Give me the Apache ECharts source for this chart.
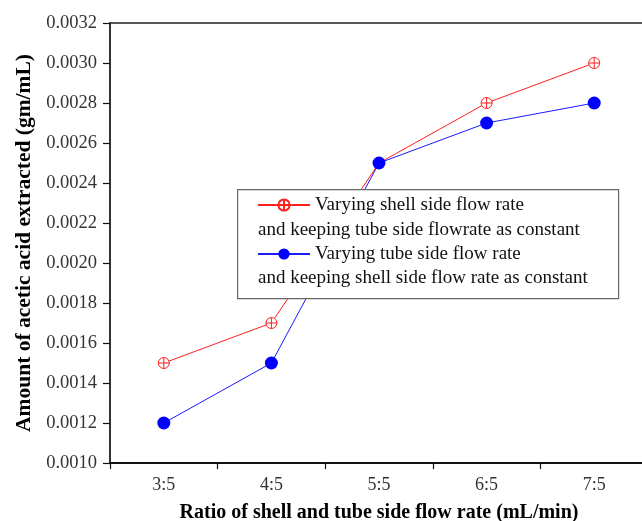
<!DOCTYPE html>
<html><head><meta charset="utf-8">
<script src="https://cdn.jsdelivr.net/npm/echarts@6/dist/echarts.min.js"></script>
<style>html,body{margin:0;padding:0;background:#fff;overflow:hidden}#c{width:642px;height:521px}</style>
</head><body><div id="c"></div>
<script>
const categories = ['3:5', '4:5', '5:5', '6:5', '7:5'];
const shellVarying = [0.0015, 0.0017, 0.0025, 0.0028, 0.0030];
const tubeVarying = [0.0012, 0.0015, 0.0025, 0.0027, 0.0028];
const seriesNames = ['Varying shell side flow rate', 'Varying tube side flow rate'];
const legendSecondLines = ['and keeping tube side flowrate as constant', 'and keeping shell side flow rate as constant'];
const xName = 'Ratio of shell and tube side flow rate (mL/min)';
const yName = 'Amount of acetic acid extracted (gm/mL)';

const FONT = 'Liberation Serif';
const crossCircle = 'path://M10,0 A10,10 0 1,1 -10,0 A10,10 0 1,1 10,0 Z M-10,0 L10,0 M0,-10 L0,10';

const chart = echarts.init(document.getElementById('c'), null, {renderer: 'canvas'});
chart.setOption({
  animation: false,
  backgroundColor: '#fff',
  grid: {left: 110, top: 23, bottom: 58, right: -6, outerBoundsMode: 'none', show: true, borderColor: '#222', borderWidth: 1.5, containLabel: false},
  xAxis: {
    type: 'category', data: categories, boundaryGap: true,
    name: xName, nameLocation: 'middle', nameGap: 40,
    nameTextStyle: {fontFamily: FONT, fontWeight: 'bold', fontSize: 20, color: '#000'},
    axisLine: {lineStyle: {color: '#111', width: 2}},
    axisTick: {show: true, inside: false, length: 6, alignWithLabel: false, lineStyle: {color: '#111', width: 1.2}},
    axisLabel: {fontFamily: FONT, fontSize: 18, color: '#333', margin: 13},
    splitLine: {show: false}
  },
  yAxis: {
    type: 'value', min: 0.0010, max: 0.0032, interval: 0.0002,
    name: yName, nameLocation: 'middle', nameGap: 56, nameRotate: 90,
    nameTextStyle: {fontFamily: FONT, fontWeight: 'bold', fontSize: 21.5, color: '#000'},
    axisLine: {show: true, lineStyle: {color: '#333', width: 2}},
    axisTick: {show: true, inside: false, length: 7, lineStyle: {color: '#111', width: 1.2}},
    axisLabel: {fontFamily: FONT, fontSize: 18.5, color: '#333', margin: 13, formatter: v => v.toFixed(4)},
    splitLine: {show: false}
  },
  legend: {
    orient: 'vertical', left: 257, top: 195, itemWidth: 52, itemHeight: 14, itemGap: 29,
    textStyle: {fontFamily: FONT, fontSize: 19, color: '#111', lineHeight: 20},
    data: seriesNames, z: 110, padding: 0, selectedMode: false
  },
  graphic: [
    {type: 'rect', left: 237, top: 189, z: 100, shape: {width: 381, height: 109}, style: {fill: '#fff', stroke: '#666', lineWidth: 1.2}},
    {type: 'text', left: 258, top: 221, z: 110, style: {text: legendSecondLines[0], font: '19px "Liberation Serif"', fill: '#111'}},
    {type: 'text', left: 258, top: 269, z: 110, style: {text: legendSecondLines[1], font: '19px "Liberation Serif"', fill: '#111'}}
  ],
  series: [
    {name: seriesNames[0], type: 'line', data: shellVarying, symbol: crossCircle, symbolSize: 11,
     lineStyle: {color: '#ff2020', width: 1}, itemStyle: {color: '#fff', borderColor: '#ff2020', borderWidth: 1}, z: 2},
    {name: seriesNames[1], type: 'line', data: tubeVarying, symbol: 'circle', symbolSize: 13,
     lineStyle: {color: '#1a1aff', width: 1}, itemStyle: {color: '#0000ff'}, z: 3}
  ]
});
</script></body></html>
